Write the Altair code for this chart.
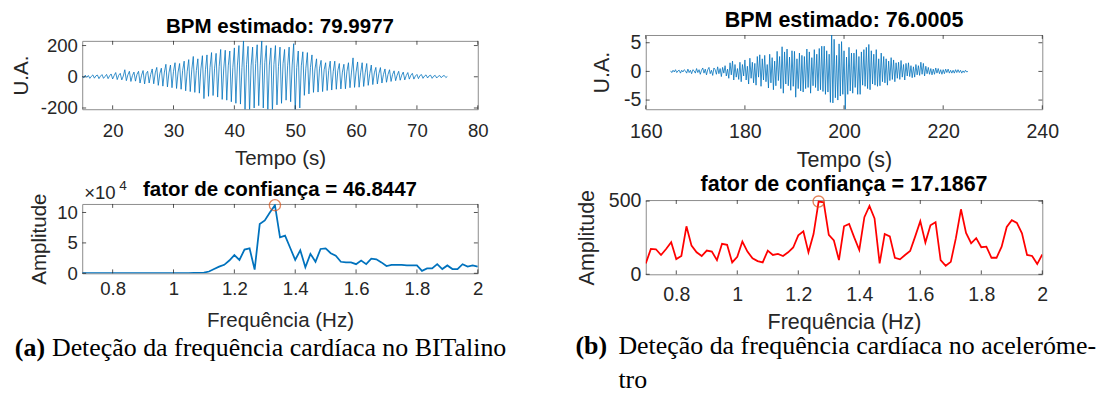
import altair as alt
import pandas as pd

FONT = "Liberation Sans"
SERIF = "Liberation Serif"
BLUE = "#0072BD"
RED = "#FF0000"
ORANGE = "#D95319"
BOX = "#8a8a8a"
TXT = "#262626"

# ---------------- texts ----------------
bit_title = "BPM estimado: 79.9977"
bit_conf_title = "fator de confiança = 46.8447"
acc_title = "BPM estimado: 76.0005"
acc_conf_title = "fator de confiança = 17.1867"
time_label = "Tempo (s)"
freq_label = "Frequência (Hz)"
ua_label = "U.A."
amp_label = "Amplitude"
cap_a_tag = "(a)"
cap_a_text = "Deteção da frequência cardíaca no BITalino"
cap_b_tag = "(b)"
cap_b_text1 = "Deteção da frequência cardíaca no aceleróme-"
cap_b_text2 = "tro"

# ---------------- (a) BITalino time signal, 4 samples per second from 15 s ----------------
bit_t0 = 15.0
bit_dt = 0.25
bit_rows = [
    [5, -8, 10, -4], [8, -10, 3, 12], [-9, 6, 11, -12], [4, 14, -10, 2],
    [15, -12, 6, 18], [-14, 8, 27, -18], [10, 22, -20, 5], [45, -25, 12, 35],
    [-30, 8, 30, -28], [15, 35, -40, 10], [40, -46, 20, 35], [-40, 15, 50, -45],
    [25, 60, -55, 20], [55, -60, 30, 80], [-65, 25, 75, -70], [35, 90, -75, 30],
    [85, -80, 40, 100], [-90, 35, 110, -95], [45, 130, -100, 40], [115, -105, 50, 135],
    [-140, 45, 140, -125], [60, 155, -120, 55], [150, -130, 65, 175], [-145, 50, 170, -150],
    [70, 165, -160, 60], [185, -170, 75, 200], [-175, 60, 230, -230], [80, 195, -230, 70],
    [190, -200, 85, 205], [-185, 70, 230, -200], [90, 200, -230, 75], [185, -230, 80, 200],
    [-180, 65, 190, -170], [85, 175, -150, 70], [190, -160, 75, 212], [-230, 60, 165, -200],
    [70, 160, -119, 55], [155, -110, 60, 140], [-100, 50, 115, -98], [55, 105, -95, 45],
    [90, -88, 40, 100], [-85, 35, 100, -80], [40, 85, -78, 30], [80, -77, 35, 90],
    [-70, 30, 121, -68], [30, 95, -67, 25], [90, -62, 25, 85], [-55, 20, 75, -50],
    [25, 60, -46, 20], [59, -40, 15, 50], [-35, 15, 45, -30], [15, 38, -25, 10],
    [35, -22, 10, 30], [-20, 8, 27, -15], [10, 22, -15, 5], [15, -12, 8, 14],
    [-10, 5, 12, -8], [6, 10, -10, 4], [9, -8, 3, 8], [-6, 5, 8, -5],
    [2],
]
bit_signal = [v for row in bit_rows for v in row]
bit_time = [bit_t0 + i * bit_dt for i in range(len(bit_signal))]

# ---------------- (b) accelerometer time signal, 4 samples per second from 165 s ----------------
acc_t0 = 165.0
acc_dt = 0.25
acc_rows = [
    [0.1, -0.2, 0.2, -0.1], [0.3, -0.2, 0.1, 0.2], [-0.3, 0.2, -0.1, 0.3], [0.1, -0.3, 0.4, -0.2],
    [0.2, -0.4, 0.3, 0.1], [-0.3, 0.5, -0.2, 0.3], [-0.5, 0.2, 0.6, -0.3], [0.4, -0.6, 0.3, 0.7],
    [-0.4, 0.2, -0.7, 0.6], [0.3, -0.5, 0.8, -0.4], [0.5, -0.9, 0.7, -0.3], [1.0, -0.8, 0.4, -1.2],
    [1.5, -0.6, 1.8, -1.5], [1.2, -1.0, 0.5, -1.4], [1.6, -1.8, 1.2, -0.8], [2.0, -1.5, 0.9, -2.2],
    [2.3, -1.2, 1.6, -2.0], [1.4, -2.4, 2.6, -1.0], [2.9, -2.6, 2.2, -1.5], [2.8, -1.8, 1.2, -2.9],
    [3.0, -2.0, 2.4, -3.2], [1.8, -2.5, 3.5, -1.6], [2.6, -3.0, 4.3, -3.8], [3.4, -2.2, 3.9, -2.5],
    [2.5, -3.3, 3.6, -2.6], [3.5, -4.5, 2.2, -3.0], [3.2, -3.4, 2.8, -3.6], [2.6, -3.0, 3.9, -2.8],
    [3.4, -3.8, 2.4, -2.5], [3.8, -2.8, 3.0, -3.4], [4.0, -3.2, 4.4, -3.5], [4.4, -4.0, 3.6, -3.6],
    [3.0, -5.4, 6.6, -5.5], [5.6, -4.6, 2.8, -5.0], [4.8, -4.3, 5.2, -4.0], [3.6, -6.7, 2.5, -4.0],
    [4.2, -3.4, 3.2, -3.8], [3.2, -2.8, 3.8, -4.0], [2.6, -4.0, 3.4, -2.4], [3.8, -2.6, 4.2, -3.0],
    [4.7, -3.2, 3.6, -2.2], [3.0, -2.4, 3.8, -2.6], [2.2, -2.5, 3.2, -1.8], [2.6, -2.0, 2.2, -2.4],
    [1.8, -1.6, 2.4, -1.4], [2.0, -1.8, 1.5, -1.2], [1.6, -1.4, 1.9, -1.0], [1.2, -1.5, 1.4, -0.8],
    [1.5, -0.9, 1.0, -1.1], [0.8, -1.0, 1.2, -0.6], [1.0, -0.7, 1.6, -0.5], [1.4, -0.8, 0.9, -0.4],
    [0.7, -0.5, 0.5, -0.6], [0.4, -0.5, 0.6, -0.3], [0.5, -0.4, 0.3, -0.5], [0.3, -0.4, 0.4, -0.2],
    [0.4, -0.3, 0.2, -0.3], [0.2, -0.3, 0.3, -0.2], [0.3, -0.2, 0.2, -0.3], [0.1, -0.2, 0.2, -0.1],
    [0.0],
]
acc_signal = [v for row in acc_rows for v in row]
acc_time = [acc_t0 + i * acc_dt for i in range(len(acc_signal))]

# ---------------- spectra: bins of 1/60 Hz from 0.7 Hz to 2 Hz ----------------
spec_bins = list(range(42, 121))
spec_freq = [k / 60 for k in spec_bins]
# BITalino amplitude, in units of 10^4
bit_amp = [
    0.03, 0.03, 0.02, 0.03, 0.02, 0.02, 0.03, 0.02, 0.02, 0.02, 0.03, 0.02,
    0.02, 0.03, 0.02, 0.02, 0.03, 0.02, 0.03, 0.03, 0.04, 0.05, 0.06, 0.08,
    0.12, 0.3, 0.7, 1.1, 1.4, 2.1, 3.0, 2.2, 3.9, 4.1, 0.6, 8.1,
    8.7, 10.0, 11.2, 5.9, 6.2, 4.2, 2.2, 3.8, 1.0, 3.2, 1.9, 4.0,
    4.1, 3.3, 2.9, 1.9, 1.8, 1.8, 1.5, 2.1, 1.5, 2.4, 2.3, 1.8,
    1.2, 1.4, 1.4, 1.4, 1.3, 1.3, 1.3, 0.4, 0.8, 0.8, 1.5, 0.7,
    1.3, 0.7, 0.7, 1.5, 1.1, 1.3, 1.1,
]
acc_amp = [
    74, 173, 171, 132, 173, 219, 104, 125, 328, 196, 150, 125,
    162, 155, 97, 208, 201, 81, 120, 224, 155, 109, 90, 81,
    162, 132, 139, 125, 150, 183, 266, 293, 150, 275, 497, 492,
    270, 231, 97, 328, 344, 252, 166, 390, 467, 381, 74, 275,
    259, 113, 102, 132, 159, 259, 363, 217, 335, 356, 97, 58,
    85, 247, 444, 282, 212, 247, 185, 189, 113, 113, 189, 323,
    370, 351, 280, 132, 125, 70, 135,
]
bit_peak_bin = 80
acc_peak_bin = 76

# ticks
bit_t_ticks = [20, 30, 40, 50, 60, 70, 80]
bit_u_ticks = [-200, 0, 200]
acc_t_ticks = [160, 180, 200, 220, 240]
acc_u_ticks = [-5, 0, 5]
freq_ticks = [0.8, 1, 1.2, 1.4, 1.6, 1.8, 2]
bit_amp_ticks = [0, 5, 10]
acc_amp_ticks = [0, 500]


def text_mark(s, x, y, size, bold=False, align="center", font=FONT, color="black",
              baseline="alphabetic"):
    return alt.Chart(pd.DataFrame({"s": [s]})).mark_text(
        align=align, baseline=baseline, font=font, fontSize=size,
        fontWeight="bold" if bold else "normal", color=color
    ).encode(text="s:N", x=alt.value(x), y=alt.value(y))


def panel(df, xf, yf, xdom, ydom, xticks, yticks, w, h, fs_tick, fs_lab,
          title, xtitle, ytitle, color, sw, peak=None, extras=(),
          ty=-8, lpx=11, tpx=8, lpy=5, tpy=5, L=4):
    xs = alt.Scale(domain=xdom, nice=False, zero=False)
    ys = alt.Scale(domain=ydom, nice=False, zero=False)
    xa = alt.Axis(values=xticks, title=xtitle, labelExpr="'' + datum.value",
                  labelFlush=False, labelOverlap=False, ticks=False, domain=False,
                  grid=False, labelFontSize=fs_tick, titleFontSize=fs_lab,
                  labelPadding=lpx, titlePadding=tpx)
    ya = alt.Axis(values=yticks, title=ytitle, labelExpr="'' + datum.value",
                  labelFlush=False, labelOverlap=False, ticks=False, domain=False,
                  grid=False, labelFontSize=fs_tick, titleFontSize=fs_lab,
                  labelPadding=lpy, titlePadding=tpy)
    X = alt.X(f"{xf}:Q", scale=xs, axis=xa)
    Y = alt.Y(f"{yf}:Q", scale=ys, axis=ya)
    layers = [alt.Chart(df).mark_line(color=color, strokeWidth=sw, clip=True).encode(x=X, y=Y)]
    xt = pd.DataFrame({xf: xticks})
    yt = pd.DataFrame({yf: yticks})
    layers.append(alt.Chart(xt).mark_rule(color=TXT, strokeWidth=0.8).encode(
        x=X, y=alt.value(0), y2=alt.value(L)))
    layers.append(alt.Chart(xt).mark_rule(color=TXT, strokeWidth=0.8).encode(
        x=X, y=alt.value(h), y2=alt.value(h - L)))
    layers.append(alt.Chart(yt).mark_rule(color=TXT, strokeWidth=0.8).encode(
        y=Y, x=alt.value(0), x2=alt.value(L)))
    layers.append(alt.Chart(yt).mark_rule(color=TXT, strokeWidth=0.8).encode(
        y=Y, x=alt.value(w), x2=alt.value(w - L)))
    if peak is not None:
        layers.append(alt.Chart(peak).mark_point(shape="circle", filled=False, size=130,
                                                  color=ORANGE, strokeWidth=1.4).encode(x=X, y=Y))
    layers.append(text_mark(title, w / 2, ty, fs_lab, bold=True))
    layers.extend(extras)
    return alt.layer(*layers).properties(
        width=w, height=h,
        view=alt.ViewBackground(stroke=BOX, strokeWidth=1),
    )


def cap(s, x, y, bold=False):
    return text_mark(s, x, y, 26.5, bold=bold, align="left", font=SERIF, baseline="middle")


bit_df = pd.DataFrame({"t": bit_time, "u": bit_signal})
acc_df = pd.DataFrame({"t": acc_time, "u": acc_signal})
bit_spec = pd.DataFrame({"f": spec_freq, "a": bit_amp})
acc_spec = pd.DataFrame({"f": spec_freq, "a": acc_amp})
bit_peak = bit_spec[[b == bit_peak_bin for b in spec_bins]]
acc_peak = acc_spec[[b == acc_peak_bin for b in spec_bins]]

exp_base = text_mark("×10", 2, -5, 19, align="left", color=TXT)
exp_pow = text_mark("4", 38, -14, 14, align="left", color=TXT)

TL = panel(bit_df, "t", "u", [15, 80], [-208, 230], bit_t_ticks, bit_u_ticks,
           405, 70, 19, 21, bit_title, time_label, ua_label, BLUE, 0.8, ty=-8,
           lpx=13, tpx=8, tpy=9)
BL = panel(bit_spec, "f", "a", [0.7, 2], [0, 11.4], freq_ticks, bit_amp_ticks,
           405, 71, 19, 21, bit_conf_title, freq_label, amp_label, BLUE, 1.8,
           peak=bit_peak, ty=-8.5, lpx=7, tpx=11, tpy=7,
           extras=(exp_base, exp_pow,
                   cap(cap_a_tag, -69, 148, True), cap(cap_a_text, -31, 148)))
TR = panel(acc_df, "t", "u", [160, 240], [-6.6, 6.35], acc_t_ticks, acc_u_ticks,
           406, 76, 20, 22, acc_title, time_label, ua_label, BLUE, 0.8, ty=-8,
           lpx=13, tpx=9, tpy=10)
BR = panel(acc_spec, "f", "a", [0.7, 2], [0, 507], freq_ticks, acc_amp_ticks,
           406, 76, 20, 22, acc_conf_title, freq_label, amp_label, RED, 1.8,
           peak=acc_peak, ty=-9, tpy=10,
           extras=(cap(cap_b_tag, -72, 150, True), cap(cap_b_text1, -28, 150),
                   cap(cap_b_text2, -28, 184)))


def spacer(h):
    # empty cell that sets the vertical start of each column
    return alt.Chart(pd.DataFrame({"g": [0]})).mark_rule(opacity=0).encode(
        x=alt.value(0), x2=alt.value(1), y=alt.value(0)).properties(
        width=10, height=h, view=alt.ViewBackground(stroke="transparent"))


left = alt.vconcat(spacer(3), TL, BL, spacing=9)
right = alt.vconcat(spacer(4), TR, BR, spacing=1)

chart = alt.hconcat(left, right, spacing=69).properties(
    padding={"left": 2, "top": -11, "right": 0, "bottom": 0}
).configure(font=FONT).configure_view(stroke="transparent").configure_axis(
    labelColor=TXT, titleColor=TXT, labelFont=FONT, titleFont=FONT,
    titleFontWeight="normal"
)

chart.save("out.html", embed_options={"renderer": "svg", "actions": False})
